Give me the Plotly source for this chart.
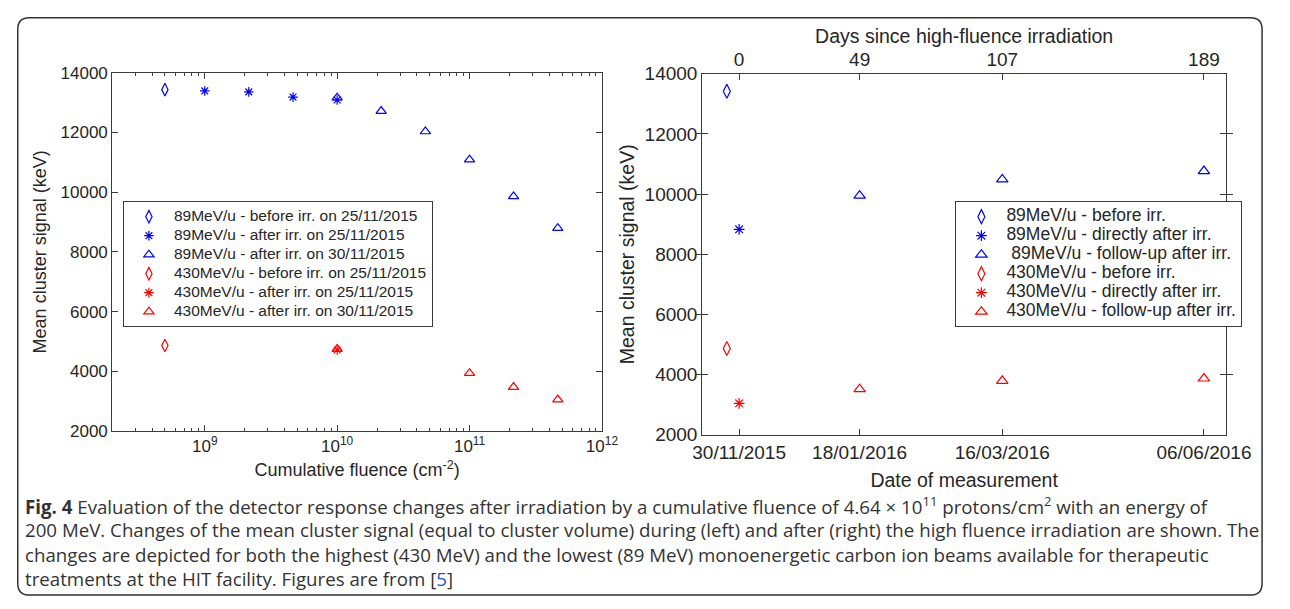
import plotly.graph_objects as go

W, H = 1290, 609

# ---------------- Left panel data (cumulative fluence) ----------------
fluence_89_before = [5e8]
signal_89_before = [13435]
fluence_89_after_25 = [1e9, 2.15e9, 4.64e9, 1e10]
signal_89_after_25 = [13391, 13359, 13185, 13087]
fluence_89_after_30 = [1e10, 2.15e10, 4.64e10, 1e11, 2.15e11, 4.64e11]
signal_89_after_30 = [13163, 12717, 12033, 11087, 9859, 8793]
fluence_430_before = [5e8]
signal_430_before = [4863]
fluence_430_after_25 = [1e10]
signal_430_after_25 = [4712]
fluence_430_after_30 = [1e10, 1e11, 2.15e11, 4.64e11]
signal_430_after_30 = [4745, 3935, 3472, 3051]

# ---------------- Right panel data (date of measurement) ----------------
date_before = ["2015-11-25"]
date_direct = ["2015-11-30"]
date_follow = ["2016-01-18", "2016-03-16", "2016-06-06"]
sig89_before = [13420]
sig89_direct = [8830]
sig89_follow = [9947, 10489, 10766]
sig430_before = [4868]
sig430_direct = [3046]
sig430_follow = [3518, 3796, 3871]

# ---------------- Tick labels ----------------
fluence_ticks = [1e9, 1e10, 1e11, 1e12]
fluence_ticktext = ["10<sup>9</sup>", "10<sup>10</sup>", "10<sup>11</sup>", "10<sup>12</sup>"]
signal_ticks = [2000, 4000, 6000, 8000, 10000, 12000, 14000]
date_ticks = ["2015-11-30", "2016-01-18", "2016-03-16", "2016-06-06"]
days_since = [0, 49, 107, 189]

left_labels = [
    "89MeV/u - before irr. on 25/11/2015",
    "89MeV/u - after irr. on 25/11/2015",
    "89MeV/u - after irr. on 30/11/2015",
    "430MeV/u - before irr. on 25/11/2015",
    "430MeV/u - after irr. on 25/11/2015",
    "430MeV/u - after irr. on 30/11/2015",
]
right_labels = [
    "89MeV/u - before irr.",
    "89MeV/u - directly after irr.",
    " 89MeV/u - follow-up after irr.",
    "430MeV/u - before irr.",
    "430MeV/u - directly after irr.",
    "430MeV/u - follow-up after irr.",
]

BLUE = "#0000ff"
RED = "#ff0000"
AX = "#3a3a3a"
TXT = "#262626"
FONT = "Liberation Sans, Arial, sans-serif"

SYM = ["diamond-tall-open", "asterisk-open", "triangle-up-open"]
SIZE_L = [9, 8, 9]
SIZE_R = [10, 9, 10]


def span(txt, px):
    return f"<span style='font-size:{px}px'>{txt}</span>"


fig = go.Figure()

left_sets = [
    (fluence_89_before, signal_89_before, BLUE),
    (fluence_89_after_25, signal_89_after_25, BLUE),
    (fluence_89_after_30, signal_89_after_30, BLUE),
    (fluence_430_before, signal_430_before, RED),
    (fluence_430_after_25, signal_430_after_25, RED),
    (fluence_430_after_30, signal_430_after_30, RED),
]
for i, (xs, ys, col) in enumerate(left_sets):
    fig.add_trace(go.Scatter(
        x=xs, y=ys, mode="markers", name=span(left_labels[i], 15.5),
        marker=dict(symbol=SYM[i % 3], size=SIZE_L[i % 3], color=col,
                    line=dict(color=col, width=1.2)),
        xaxis="x", yaxis="y", legend="legend", hoverinfo="x+y",
    ))

right_sets = [
    (date_before, sig89_before, BLUE),
    (date_direct, sig89_direct, BLUE),
    (date_follow, sig89_follow, BLUE),
    (date_before, sig430_before, RED),
    (date_direct, sig430_direct, RED),
    (date_follow, sig430_follow, RED),
]
for i, (xs, ys, col) in enumerate(right_sets):
    fig.add_trace(go.Scatter(
        x=xs, y=ys, mode="markers", name=span(right_labels[i], 17.5),
        marker=dict(symbol=SYM[i % 3], size=SIZE_R[i % 3], color=col,
                    line=dict(color=col, width=1.2)),
        xaxis="x2", yaxis="y2", legend="legend2", hoverinfo="x+y",
    ))

# invisible trace to carry the top "days since" axis
fig.add_trace(go.Scatter(
    x=days_since, y=[None] * len(days_since), mode="markers",
    xaxis="x3", yaxis="y2", showlegend=False, hoverinfo="skip",
))

# minor ticks for log axis
minor_vals = []
for dec in [1e8, 1e9, 1e10, 1e11]:
    for m in range(2, 10):
        v = m * dec
        if 2e8 <= v < 1e12:
            minor_vals.append(v)

tickfont_l = dict(family=FONT, size=17, color=TXT)
titlefont_l = dict(family=FONT, size=18, color=TXT)
tickfont_r = dict(family=FONT, size=19, color=TXT)
titlefont_r = dict(family=FONT, size=19.5, color=TXT)

common_axis = dict(showline=True, linecolor=AX, linewidth=1, mirror="allticks",
                   ticks="inside", tickcolor=AX, ticklen=6, tickwidth=1,
                   showgrid=False, zeroline=False)

fig.update_layout(
    width=W, height=H,
    margin=dict(l=0, r=0, t=0, b=0),
    paper_bgcolor="white", plot_bgcolor="white",
    font=dict(family=FONT, color=TXT),
    xaxis=dict(
        domain=[106 / W, 609 / W], anchor="y", type="log",
        range=[8.301, 12],
        tickmode="array", tickvals=fluence_ticks, ticktext=fluence_ticktext,
        minor=dict(tickmode="array", tickvals=minor_vals, ticks="inside",
                   ticklen=3, tickcolor=AX, showgrid=False),
        tickfont=tickfont_l,
        title=dict(text="Cumulative fluence (cm<sup>-2</sup>)", font=titlefont_l, standoff=8),
        **common_axis,
    ),
    yaxis=dict(
        domain=[1 - 436 / H, 1 - 65 / H], anchor="x",
        range=[2000, 14000], tickmode="array", tickvals=signal_ticks,
        tickformat="d", tickfont=tickfont_l,
        title=dict(text="Mean cluster signal (keV)", font=titlefont_l, standoff=9),
        **common_axis,
    ),
    xaxis2=dict(
        domain=[712 / W, 1250 / W], anchor="y2", type="date",
        range=["2015-11-15", "2016-06-15"],
        tickmode="array", tickvals=date_ticks, tickformat="%d/%m/%Y",
        tickfont=tickfont_r,
        title=dict(text="Date of measurement", font=titlefont_r, standoff=11),
        **common_axis,
    ),
    xaxis3=dict(
        overlaying="x2", side="top", anchor="y2", type="linear",
        range=[-15, 198], tickmode="array", tickvals=days_since,
        ticks="inside", ticklen=6, tickcolor=AX, showline=False,
        showgrid=False, zeroline=False, tickfont=tickfont_r,
        ticklabelstandoff=3,
        title=dict(text="Days since high-fluence irradiation", font=titlefont_r, standoff=0),
    ),
    yaxis2=dict(
        domain=[1 - 440 / H, 1 - 66 / H], anchor="x2",
        range=[2000, 14000], tickmode="array", tickvals=signal_ticks,
        tickformat="d", tickfont=tickfont_r,
        title=dict(text="Mean cluster signal (keV)", font=titlefont_r, standoff=4),
        **common_axis,
    ),
    legend=dict(
        x=117 / W, y=1 - 198 / H, xanchor="left", yanchor="top",
        bgcolor="white", bordercolor=AX, borderwidth=1,
        font=dict(family=FONT, size=10, color=TXT),
        tracegroupgap=0, itemwidth=40,
    ),
    legend2=dict(
        x=972 / W, y=1 - 198 / H, xanchor="left", yanchor="top",
        bgcolor="white", bordercolor=AX, borderwidth=1,
        font=dict(family=FONT, size=10, color=TXT),
        tracegroupgap=0, itemwidth=40,
    ),
)

# caption lines
CAP = "Open Sans, Noto Sans, sans-serif"
CAPCOL = "#333333"
caption_lines = [
    "<b>Fig. 4</b> Evaluation of the detector response changes after irradiation by a cumulative fluence of 4.64 × 10<sup>11</sup> protons/cm<sup>2</sup> with an energy of",
    "200 MeV. Changes of the mean cluster signal (equal to cluster volume) during (left) and after (right) the high fluence irradiation are shown. The",
    "changes are depicted for both the highest (430 MeV) and the lowest (89 MeV) monoenergetic carbon ion beams available for therapeutic",
    "treatments at the HIT facility. Figures are from [<span style='color:#2255cc'>5</span>]",
]
caption_y = [513, 538, 564, 589]
for line, yc in zip(caption_lines, caption_y):
    fig.add_annotation(
        text=line, x=14 / W, y=1 - yc / H, xref="paper", yref="paper",
        xanchor="left", yanchor="middle", showarrow=False,
        font=dict(family=CAP, size=18.7, color=CAPCOL),
    )

# rounded outer frame
x0, x1 = 9 / W, 1287 / W
y0, y1 = 1 - 606 / H, 1 - 8 / H
rx, ry = 12 / W, 12 / H
path = (f"M {x0+rx},{y1} L {x1-rx},{y1} Q {x1},{y1} {x1},{y1-ry} "
        f"L {x1},{y0+ry} Q {x1},{y0} {x1-rx},{y0} L {x0+rx},{y0} "
        f"Q {x0},{y0} {x0},{y0+ry} L {x0},{y1-ry} Q {x0},{y1} {x0+rx},{y1} Z")
fig.add_shape(type="path", path=path, xref="paper", yref="paper",
              line=dict(color="#333333", width=1.5), layer="below")

fig.write_html("out.html")
